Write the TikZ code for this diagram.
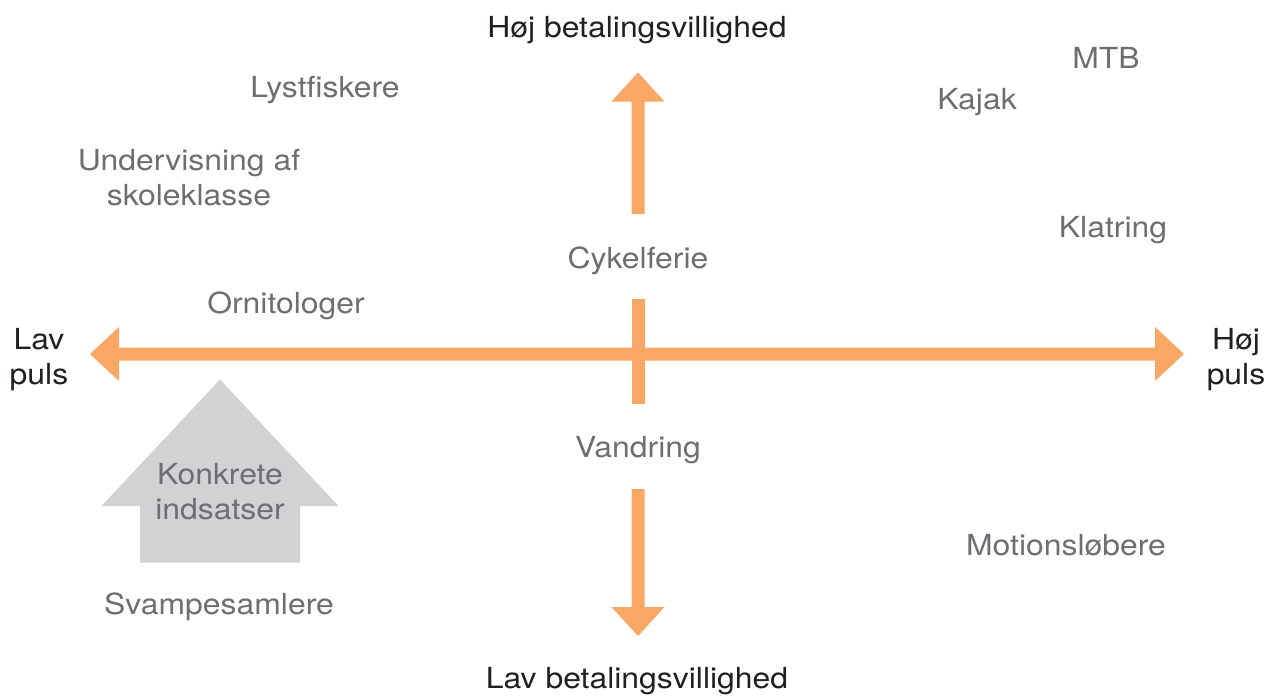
\documentclass[tikz,border=0pt]{standalone}
\usepackage{fontspec}
\setmainfont{TeX Gyre Heros}[FakeStretch=1.1]
\definecolor{axisorange}{RGB}{250,166,101}
\definecolor{boxgray}{RGB}{209,210,212}
\definecolor{labelgray}{RGB}{109,110,113}
\definecolor{textblack}{RGB}{35,31,32}
\begin{document}
\begin{tikzpicture}[x=1pt,y=-1pt,
  lbl/.style={anchor=base,inner sep=0pt,align=center,text=labelgray,font=\fontsize{29}{34.5}\selectfont},
  axislbl/.style={lbl,text=textblack},
  arrowfill/.style={fill=axisorange,draw=none},
  housefill/.style={fill=boxgray,draw=none}]
\useasboundingbox (0,0) rectangle (1275,696);
% coordinates
\coordinate (c) at (638,354);
% horizontal axis with two heads
\path[arrowfill] (90,354) -- (119,327) -- (119,347.5) -- (1155,347.5) -- (1155,327) -- (1184,354)
  -- (1155,381) -- (1155,360.5) -- (119,360.5) -- (119,381) -- cycle;
% cross bar on the vertical axis
\path[arrowfill] (631.5,299) rectangle (644.5,404);
% upward arrow
\path[arrowfill] (631.5,214) -- (631.5,101.5) -- (611.5,101.5) -- (638,72.5) -- (664.5,101.5)
  -- (644.5,101.5) -- (644.5,214) -- cycle;
% downward arrow
\path[arrowfill] (631.5,489) -- (631.5,607) -- (611.5,607) -- (638,636) -- (664.5,607)
  -- (644.5,607) -- (644.5,489) -- cycle;
% house-shaped arrow
\path[housefill] (220,379.5) -- (338.5,506) -- (300,506) -- (300,562.5) -- (140,562.5)
  -- (140,506) -- (101.5,506) -- cycle;
% axis labels (multi-line nodes: base = last line)
\node[axislbl] (hb) at (637,37.3) {Høj betalingsvillighed};
\node[axislbl] (lb) at (637,688.3) {Lav betalingsvillighed};
\node[axislbl] (lp) at (39,384) {Lav\\puls};
\node[axislbl] (hp) at (1236,384) {Høj\\puls};
% labels
\node[lbl] (lyst) at (325,97) {Lystfiskere};
\node[lbl] (mtb) at (1106,68.3) {MTB};
\node[lbl] (kajak) at (977,109) {Kajak};
\node[lbl] (underv) at (189,205) {Undervisning af\\skoleklasse};
\node[lbl] (klat) at (1113,237) {Klatring};
\node[lbl] (cykel) at (638,268) {Cykelferie};
\node[lbl] (orni) at (286,313) {Ornitologer};
\node[lbl] (vand) at (638,457) {Vandring};
\node[lbl] (konk) at (220,519) {Konkrete\\indsatser};
\node[lbl] (motion) at (1066,555) {Motionsløbere};
\node[lbl] (svamp) at (219,614) {Svampesamlere};
\end{tikzpicture}
\end{document}
